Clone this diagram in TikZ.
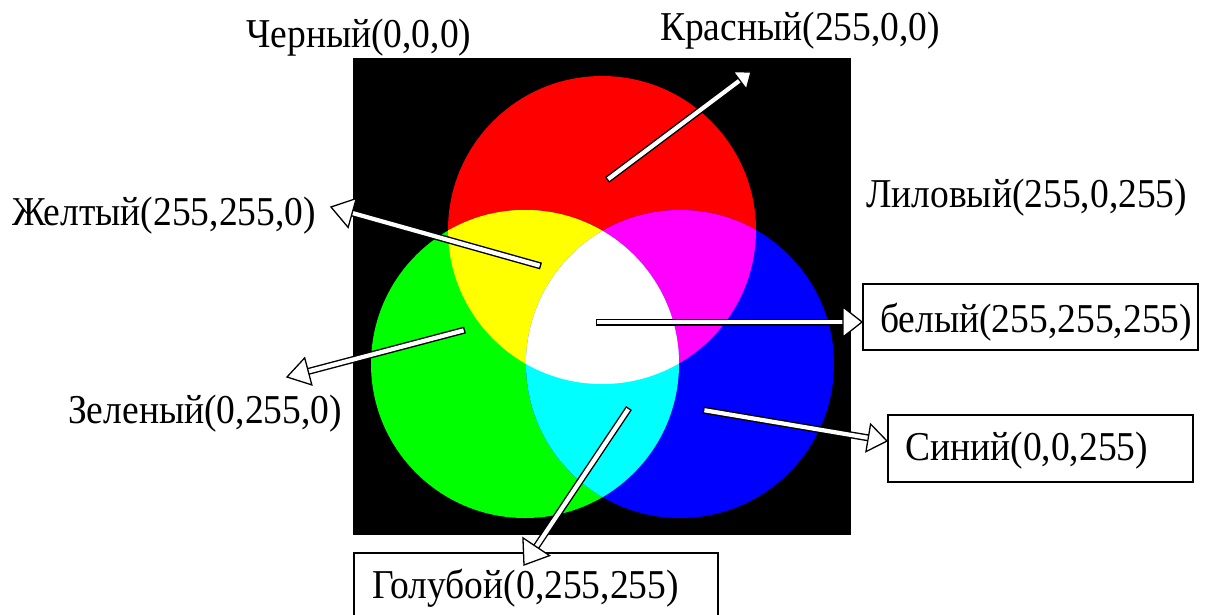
\documentclass[tikz,border=0pt]{standalone}
\usepackage{fontspec}
\setmainfont{Liberation Serif}[FakeStretch=0.915]
\usetikzlibrary{calc}
\definecolor{cRed}{RGB}{255,0,0}
\definecolor{cGreen}{RGB}{0,255,0}
\definecolor{cBlue}{RGB}{0,0,255}
\definecolor{cYellow}{RGB}{255,255,0}
\definecolor{cMagenta}{RGB}{255,0,255}
\definecolor{cCyan}{RGB}{0,255,255}
% #1 start, #2 tip, #3 head length, #4 head half width
\newcommand{\hollowarrow}[4]{%
  \coordinate (hb) at ($(#2)!#3!(#1)$);
  \draw[line width=7pt, black] (#1) -- (hb);
  \draw[line width=4.2pt, white, shorten <=1.4pt] (#1) -- (hb);
  \filldraw[fill=white, draw=black, line width=1.3pt, line join=miter]
    (#2) -- ($(hb)!#4!90:(#2)$) -- ($(hb)!#4!-90:(#2)$) -- cycle;
}
\tikzset{
  lbl/.style={anchor=base west, inner sep=0pt, font=\fontsize{41}{48}\selectfont},
  lblbox/.style={draw=black, line width=1.5pt, anchor=north west, inner sep=0pt,
    font=\fontsize{41}{48}\selectfont}
}
\begin{document}
\begin{tikzpicture}[x=1pt, y=-1pt]
\useasboundingbox (0,0) rectangle (1207,614);
% colour circles
\fill[black] (353,58) rectangle (851,535);
\coordinate (R) at (602,230);
\coordinate (G) at (525,364);
\coordinate (B) at (680,364);
\fill[cRed] (R) circle[radius=154pt];
\fill[cGreen] (G) circle[radius=154pt];
\fill[cBlue] (B) circle[radius=154pt];
\begin{scope}
  \clip (R) circle[radius=154pt];
  \fill[cYellow] (G) circle[radius=154pt];
  \fill[cMagenta] (B) circle[radius=154pt];
\end{scope}
\begin{scope}
  \clip (G) circle[radius=154pt];
  \fill[cCyan] (B) circle[radius=154pt];
  \clip (R) circle[radius=154pt];
  \fill[white] (B) circle[radius=154pt];
\end{scope}
% labels
\node[lbl] (black) at (246,47) {Черный(0,0,0)};
\node[lbl] (red) at (660,40) {Красный(255,0,0)};
\node[lbl] (violet) at (866,207) {Лиловый(255,0,255)};
\node[lbl] (yellow) at (12,225) {Желтый(255,255,0)};
\node[lbl] (green) at (68,423) {Зеленый(0,255,0)};
\node[lblbox, minimum width=335pt, minimum height=66pt] (white) at (862,283) {};
\node[lbl] (whitetxt) at (880,332) {белый(255,255,255)};
\node[lblbox, minimum width=305pt, minimum height=67pt] (blue) at (887,414) {};
\node[lbl] (bluetxt) at (905,460) {Синий(0,0,255)};
\node[lblbox, minimum width=364pt, minimum height=70pt] (cyan) at (353,552) {};
\node[lbl] (cyantxt) at (372,598) {Голубой(0,255,255)};
% arrows
\coordinate (sRed) at (607,180);   \coordinate (tRed) at (751,72);
\coordinate (sYel) at (541,266);   \coordinate (tYel) at (331,207);
\coordinate (sWhi) at (596,322);   \coordinate (tWhi) at (white.west |- 0,322);
\coordinate (sGre) at (465,330);   \coordinate (tGre) at (287,377);
\coordinate (sCya) at (629,408);   \coordinate (tCya) at (524,565);
\coordinate (sBlu) at (703,410);   \coordinate (tBlu) at (blue.west |- 0,441);
\hollowarrow{sRed}{tRed}{14pt}{11pt}
\hollowarrow{sYel}{tYel}{22pt}{15pt}
\hollowarrow{sWhi}{tWhi}{19pt}{15pt}
\hollowarrow{sGre}{tGre}{22pt}{14pt}
\hollowarrow{sCya}{tCya}{22pt}{16pt}
\hollowarrow{sBlu}{tBlu}{19pt}{14pt}
\end{tikzpicture}
\end{document}
